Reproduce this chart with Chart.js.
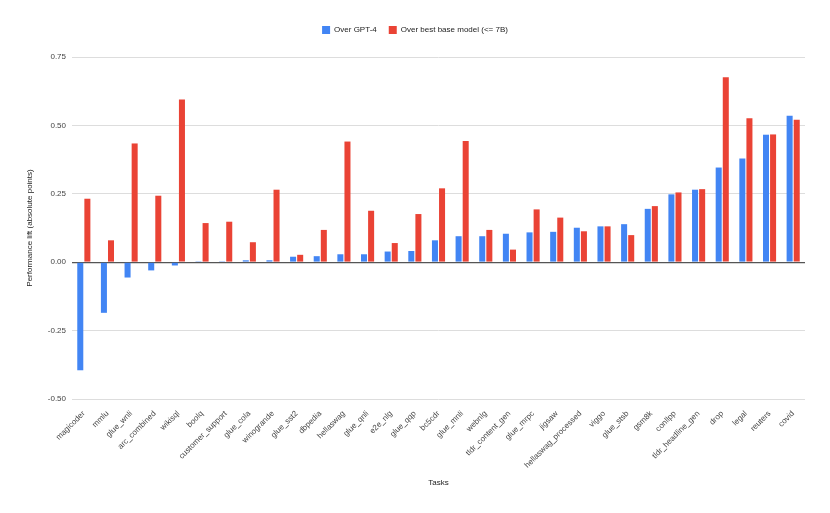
<!DOCTYPE html>
<html lang="en">
<head>
    <meta charset="UTF-8">
    <title>Performance lift by task</title>
    <script src="https://cdn.jsdelivr.net/npm/chart.js"></script>
    <style>
        body {
            margin: 0;
            padding: 0;
            background: #ffffff;
        }
    </style>
</head>
<body>

    <canvas id="liftChart" width="830" height="513"></canvas>

    <script>
        // Tasks on the x axis
        const tasks = ['magicoder', 'mmlu', 'glue_wnli', 'arc_combined', 'wikisql', 'boolq',
            'customer_support', 'glue_cola', 'winogrande', 'glue_sst2', 'dbpedia', 'hellaswag',
            'glue_qnli', 'e2e_nlg', 'glue_qqp', 'bc5cdr', 'glue_mnli', 'webnlg', 'tldr_content_gen',
            'glue_mrpc', 'jigsaw', 'hellaswag_processed', 'viggo', 'glue_stsb', 'gsm8k', 'conllpp',
            'tldr_headline_gen', 'drop', 'legal', 'reuters', 'covid'];

        // Lift over GPT-4
        const overGpt4 = [-0.395, -0.185, -0.056, -0.030, -0.012, 0.001, 0.001, 0.007, 0.007,
            0.020, 0.022, 0.029, 0.029, 0.039, 0.041, 0.080, 0.095, 0.095, 0.104, 0.109, 0.111,
            0.126, 0.131, 0.139, 0.195, 0.248, 0.265, 0.346, 0.379, 0.466, 0.535];

        // Lift over best base model (<= 7B)
        const overBase = [0.232, 0.080, 0.434, 0.243, 0.595, 0.143, 0.148, 0.073, 0.265,
            0.027, 0.118, 0.441, 0.188, 0.070, 0.176, 0.270, 0.443, 0.118, 0.046, 0.193, 0.163,
            0.113, 0.131, 0.099, 0.205, 0.255, 0.267, 0.676, 0.526, 0.467, 0.521];

        const yTicks = [-0.5, -0.25, 0, 0.25, 0.5, 0.75];

        const fontFamily = "Arial, 'Liberation Sans', sans-serif";
        const textColor = '#444444';

        // push the plot area down below the legend
        const legendGap = {
            id: 'legendGap',
            afterInit(chart) {
                const legend = chart.legend;
                const fit = legend.fit;
                legend.fit = function() {
                    fit.call(this);
                    this.height += 13;
                };
            }
        };

        const ctx = document.getElementById('liftChart').getContext('2d');
        const liftChart = new Chart(ctx, {
            type: 'bar',
            data: {
                labels: tasks,
                datasets: [{
                    label: 'Over GPT-4',
                    data: overGpt4,
                    backgroundColor: '#4285F4',
                    categoryPercentage: 0.6,
                    barPercentage: 0.85
                }, {
                    label: 'Over best base model (<= 7B)',
                    data: overBase,
                    backgroundColor: '#EA4335',
                    categoryPercentage: 0.6,
                    barPercentage: 0.85
                }]
            },
            plugins: [legendGap],
            options: {
                responsive: false,
                animation: false,
                devicePixelRatio: 1,
                layout: {
                    padding: { top: 14, right: 25, bottom: 25, left: 25 }
                },
                plugins: {
                    legend: {
                        position: 'top',
                        labels: {
                            boxWidth: 8,
                            boxHeight: 8,
                            padding: 12,
                            color: '#222222',
                            font: { family: fontFamily, size: 8 }
                        }
                    },
                    tooltip: { enabled: false }
                },
                scales: {
                    x: {
                        grid: { display: false },
                        border: { display: false },
                        ticks: {
                            autoSkip: false,
                            minRotation: 45,
                            maxRotation: 45,
                            padding: 2,
                            color: textColor,
                            font: { family: fontFamily, size: 8 }
                        },
                        title: {
                            display: true,
                            text: 'Tasks',
                            color: '#222222',
                            font: { family: fontFamily, size: 8 },
                            padding: { top: 0, bottom: 0 }
                        },
                        afterFit: function(scale) {
                            scale.height = 89;
                        }
                    },
                    y: {
                        min: -0.5,
                        max: 0.75,
                        afterBuildTicks: function(scale) {
                            scale.ticks = yTicks.map(v => ({ value: v }));
                        },
                        grid: {
                            color: function(c) {
                                return c.tick && c.tick.value === 0 ? '#555555' : '#dddddd';
                            },
                            lineWidth: function(c) {
                                return c.tick && c.tick.value === 0 ? 1.2 : 1;
                            },
                            drawTicks: false
                        },
                        border: { display: false },
                        ticks: {
                            padding: 6,
                            color: textColor,
                            font: { family: fontFamily, size: 8 },
                            callback: function(value) {
                                return Number(value).toFixed(2);
                            }
                        },
                        title: {
                            display: true,
                            text: 'Performance lift (absolute points)',
                            color: '#222222',
                            font: { family: fontFamily, size: 8 },
                            padding: { top: 0, bottom: 0 }
                        },
                        afterFit: function(scale) {
                            scale.width = 47;
                        }
                    }
                }
            }
        });
    </script>

</body>
</html>
